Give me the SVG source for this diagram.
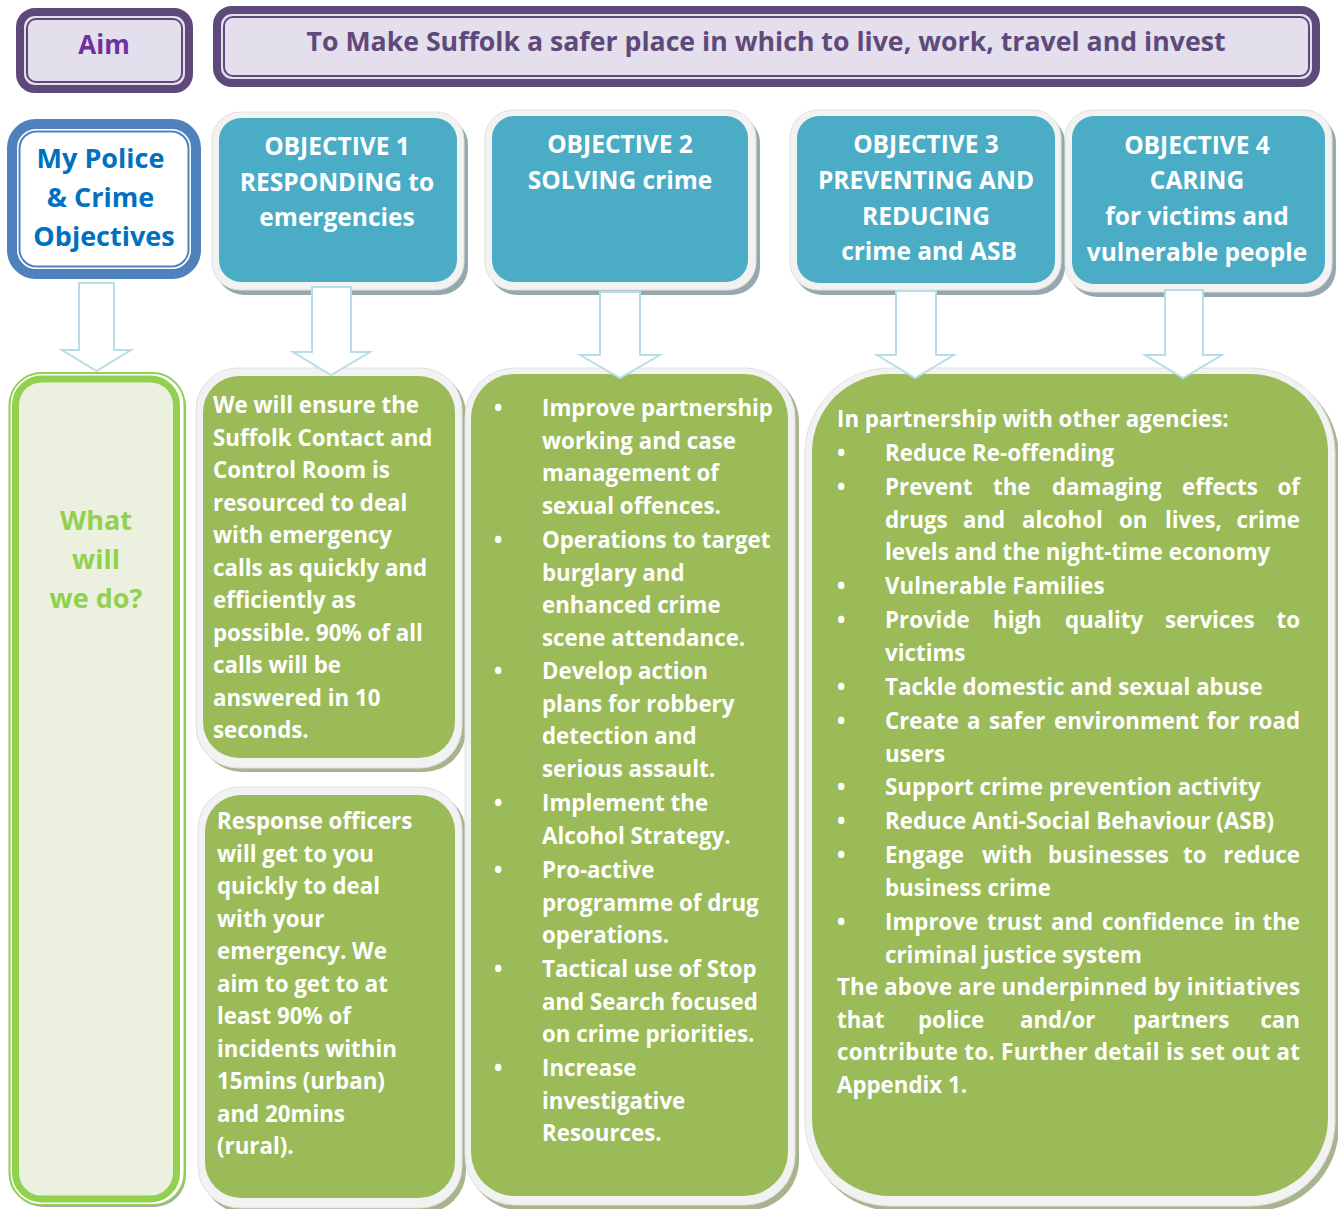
<svg xmlns="http://www.w3.org/2000/svg" width="1338" height="1209" viewBox="0 0 1338 1209">
<style>
.t{font-family:"Open Sans",Lato,"Liberation Sans",sans-serif;font-weight:bold}
.obj{fill:#4BACC6}
.frame{fill:#F2F2F2;stroke:#E0E0E0;stroke-width:1}
.shT{fill:#94A9AE}
.shG{fill:#A8B48E}
.grn{fill:#9BBB59}
.wt{fill:#FFFFFF;font-size:22.3px}
.ot{fill:#FFFFFF;font-size:24.5px;text-anchor:middle}
.arr{fill:#FFFFFF;stroke:#B7DDE8;stroke-width:2}
.e{text-anchor:end}
</style>
<rect width="1338" height="1209" fill="#FFFFFF"/>

<g id="aim">
<rect x="20" y="12" width="169" height="77" rx="15" fill="#E4DFEC" stroke="#5F497A" stroke-width="8"/>
<rect x="27" y="19" width="155" height="63" rx="9" fill="none" stroke="#5F497A" stroke-width="2"/>
<text class="t" x="104" y="54" font-size="26" fill="#7030A0" text-anchor="middle">Aim</text>
</g>

<g id="aim-text">
<rect x="217" y="10" width="1099" height="73" rx="15" fill="#E4DFEC" stroke="#5F497A" stroke-width="8"/>
<rect x="224" y="17" width="1085" height="59" rx="9" fill="none" stroke="#5F497A" stroke-width="2"/>
<text class="t" x="766" y="51" font-size="27" fill="#5F497A" text-anchor="middle" textLength="919" lengthAdjust="spacingAndGlyphs">To Make Suffolk a safer place in which to live, work, travel and invest</text>
</g>

<g id="my-police">
<rect x="12" y="124" width="184" height="150" rx="24" fill="#FFFFFF" stroke="#4F81BD" stroke-width="10"/>
<rect x="19.5" y="131.5" width="169" height="135" rx="17" fill="none" stroke="#4F81BD" stroke-width="2"/>
<text class="t" font-size="27" fill="#0070C0" text-anchor="middle">
<tspan x="104" y="168">My Police</tspan>
<tspan x="104" y="207">&amp; Crime</tspan>
<tspan x="104" y="246">Objectives</tspan>
</text>
</g>

<g id="objective-1">
<rect class="shT" x="216" y="117" width="252" height="178" rx="28"/>
<rect class="frame" x="212" y="112" width="252" height="178" rx="28"/>
<rect class="obj" x="219" y="118" width="238" height="164" rx="22"/>
<text class="t ot"><tspan x="337" y="155">OBJECTIVE 1</tspan><tspan x="337" y="191">RESPONDING to</tspan><tspan x="337" y="226">emergencies</tspan></text>
</g>

<g id="objective-2">
<rect class="shT" x="489" y="115" width="271" height="180" rx="28"/>
<rect class="frame" x="485" y="110" width="271" height="180" rx="28"/>
<rect class="obj" x="492" y="116" width="256" height="166" rx="22"/>
<text class="t ot"><tspan x="620" y="153">OBJECTIVE 2</tspan><tspan x="620" y="189">SOLVING crime</tspan></text>
</g>

<g id="objective-3">
<rect class="shT" x="794" y="115" width="271" height="180" rx="28"/>
<rect class="frame" x="790" y="110" width="271" height="180" rx="28"/>
<rect class="obj" x="797" y="116" width="258" height="167" rx="22"/>
<text class="t ot"><tspan x="926" y="153">OBJECTIVE 3</tspan><tspan x="926" y="189">PREVENTING AND</tspan><tspan x="926" y="225">REDUCING</tspan><tspan x="929" y="260">crime and ASB</tspan></text>
</g>

<g id="objective-4">
<rect class="shT" x="1069" y="115" width="267" height="182" rx="28"/>
<rect class="frame" x="1065" y="110" width="267" height="182" rx="28"/>
<rect class="obj" x="1072" y="116" width="253" height="168" rx="22"/>
<text class="t ot"><tspan x="1197" y="154">OBJECTIVE 4</tspan><tspan x="1197" y="189">CARING</tspan><tspan x="1197" y="225">for victims and</tspan><tspan x="1197" y="261">vulnerable people</tspan></text>
</g>

<g id="what-will-we-do">
<rect x="11" y="375" width="175" height="832" rx="32" fill="#A6A6A6"/>
<rect x="9.5" y="373" width="175" height="832" rx="32" fill="#FFFFFF" stroke="#92D050" stroke-width="2"/>
<rect x="15.5" y="379" width="161" height="820" rx="26" fill="#EBF1DE" stroke="#92D050" stroke-width="7"/>
<text class="t" font-size="27" fill="#92D050" text-anchor="middle"><tspan x="96" y="530">What</tspan><tspan x="96" y="569">will</tspan><tspan x="96" y="608">we do?</tspan></text>
</g>

<g id="action-1a">
<rect class="shG" x="200" y="372" width="266" height="400" rx="42"/>
<rect class="frame" x="196" y="368" width="266" height="400" rx="42"/>
<rect class="grn" x="203" y="376" width="252" height="382" rx="36"/>
<text class="t wt">
<tspan x="213" y="413">We will ensure the</tspan>
<tspan x="213" y="445.5">Suffolk Contact and</tspan>
<tspan x="213" y="478">Control Room is</tspan>
<tspan x="213" y="510.5">resourced to deal</tspan>
<tspan x="213" y="543">with emergency</tspan>
<tspan x="213" y="575.5">calls as quickly and</tspan>
<tspan x="213" y="608">efficiently as</tspan>
<tspan x="213" y="640.5">possible. 90% of all</tspan>
<tspan x="213" y="673">calls will be</tspan>
<tspan x="213" y="705.5">answered in 10</tspan>
<tspan x="213" y="738">seconds.</tspan>
</text>
</g>

<g id="action-1b">
<rect class="shG" x="202" y="791" width="264" height="422" rx="42"/>
<rect class="frame" x="198" y="787" width="264" height="421" rx="42"/>
<rect class="grn" x="205" y="795" width="250" height="403" rx="36"/>
<text class="t wt">
<tspan x="217" y="829">Response officers</tspan>
<tspan x="217" y="861.5">will get to you</tspan>
<tspan x="217" y="894">quickly to deal</tspan>
<tspan x="217" y="926.5">with your</tspan>
<tspan x="217" y="959">emergency. We</tspan>
<tspan x="217" y="991.5">aim to get to at</tspan>
<tspan x="217" y="1024">least 90% of</tspan>
<tspan x="217" y="1056.5">incidents within</tspan>
<tspan x="217" y="1089">15mins (urban)</tspan>
<tspan x="217" y="1121.5">and 20mins</tspan>
<tspan x="217" y="1154">(rural).</tspan>
</text>
</g>

<g id="action-2">
<rect class="shG" x="469" y="372" width="330" height="838" rx="50"/>
<rect class="frame" x="465" y="368" width="330" height="837" rx="50"/>
<rect class="grn" x="471" y="374" width="317" height="822" rx="44"/>
<text class="t wt">
<tspan x="494" y="416">•</tspan><tspan x="542" y="416">Improve partnership</tspan>
<tspan x="542" y="448.5">working and case</tspan>
<tspan x="542" y="481">management of</tspan>
<tspan x="542" y="513.5">sexual offences.</tspan>
<tspan x="494" y="548">•</tspan><tspan x="542" y="548">Operations to target</tspan>
<tspan x="542" y="580.5">burglary and</tspan>
<tspan x="542" y="613">enhanced crime</tspan>
<tspan x="542" y="645.5">scene attendance.</tspan>
<tspan x="494" y="679">•</tspan><tspan x="542" y="679">Develop action</tspan>
<tspan x="542" y="711.5">plans for robbery</tspan>
<tspan x="542" y="744">detection and</tspan>
<tspan x="542" y="776.5">serious assault.</tspan>
<tspan x="494" y="811">•</tspan><tspan x="542" y="811">Implement the</tspan>
<tspan x="542" y="843.5">Alcohol Strategy.</tspan>
<tspan x="494" y="878">•</tspan><tspan x="542" y="878">Pro-active</tspan>
<tspan x="542" y="910.5">programme of drug</tspan>
<tspan x="542" y="943">operations.</tspan>
<tspan x="494" y="977">•</tspan><tspan x="542" y="977">Tactical use of Stop</tspan>
<tspan x="542" y="1009.5">and Search focused</tspan>
<tspan x="542" y="1042">on crime priorities.</tspan>
<tspan x="494" y="1076">•</tspan><tspan x="542" y="1076">Increase</tspan>
<tspan x="542" y="1108.5">investigative</tspan>
<tspan x="542" y="1141">Resources.</tspan>
</text>
</g>

<g id="action-3-4">
<rect class="shG" x="809" y="372" width="530" height="839" rx="85"/>
<rect class="frame" x="805" y="368" width="530" height="838" rx="85"/>
<rect class="grn" x="812" y="374" width="516" height="822" rx="78"/>
<g class="t wt">
<text x="837" y="427">In partnership with other agencies:</text>
<text x="837" y="461">•</text><text x="885" y="461">Reduce Re-offending</text>
<text x="837" y="495">•</text><text><tspan x="885" y="495">Prevent</tspan><tspan x="993" y="495">the</tspan><tspan x="1052" y="495">damaging</tspan><tspan x="1182" y="495">effects</tspan></text><text class="e" x="1300" y="495">of</text>
<text><tspan x="885" y="527.5">drugs</tspan><tspan x="963" y="527.5">and</tspan><tspan x="1022" y="527.5">alcohol</tspan><tspan x="1119" y="527.5">on</tspan><tspan x="1165" y="527.5">lives,</tspan></text><text class="e" x="1300" y="527.5">crime</text>
<text x="885" y="560">levels and the night-time economy</text>
<text x="837" y="594">•</text><text x="885" y="594">Vulnerable Families</text>
<text x="837" y="628">•</text><text><tspan x="885" y="628">Provide</tspan><tspan x="993" y="628">high</tspan><tspan x="1065" y="628">quality</tspan><tspan x="1165" y="628">services</tspan></text><text class="e" x="1300" y="628">to</text>
<text x="885" y="660.5">victims</text>
<text x="837" y="695">•</text><text x="885" y="695">Tackle domestic and sexual abuse</text>
<text x="837" y="729">•</text><text><tspan x="885" y="729">Create</tspan><tspan x="967" y="729">a</tspan><tspan x="989" y="729">safer</tspan><tspan x="1054" y="729">environment</tspan><tspan x="1207" y="729">for</tspan></text><text class="e" x="1300" y="729">road</text>
<text x="885" y="761.5">users</text>
<text x="837" y="795">•</text><text x="885" y="795">Support crime prevention activity</text>
<text x="837" y="829">•</text><text x="885" y="829">Reduce Anti-Social Behaviour (ASB)</text>
<text x="837" y="863">•</text><text><tspan x="885" y="863">Engage</tspan><tspan x="982" y="863">with</tspan><tspan x="1048" y="863">businesses</tspan><tspan x="1183" y="863">to</tspan></text><text class="e" x="1300" y="863">reduce</text>
<text x="885" y="895.5">business crime</text>
<text x="837" y="930">•</text><text><tspan x="885" y="930">Improve</tspan><tspan x="987" y="930">trust</tspan><tspan x="1051" y="930">and</tspan><tspan x="1102" y="930">confidence</tspan><tspan x="1234" y="930">in</tspan></text><text class="e" x="1300" y="930">the</text>
<text x="885" y="962.5">criminal justice system</text>
<text x="837" y="995" textLength="463" lengthAdjust="spacing">The above are underpinned by initiatives</text>
<text><tspan x="837" y="1027.5">that</tspan><tspan x="918" y="1027.5">police</tspan><tspan x="1020" y="1027.5">and/or</tspan><tspan x="1133" y="1027.5">partners</tspan></text><text class="e" x="1300" y="1027.5">can</text>
<text x="837" y="1060" textLength="463" lengthAdjust="spacing">contribute to. Further detail is set out at</text>
<text x="837" y="1092.5">Appendix 1.</text>
</g>
</g>

<g id="connectors">
<path class="arr" d="M79,283 L114,283 L114,350 L131,350 L96.5,371 L62,350 L79,350 Z"/>
<path class="arr" d="M312,287 L351,287 L351,352 L370,352 L331,375 L293,352 L312,352 Z"/>
<path class="arr" d="M600,292 L640,292 L640,355 L660,355 L620,378 L580,355 L600,355 Z"/>
<path class="arr" d="M896,291 L936,291 L936,355 L954,355 L915,378 L877,355 L896,355 Z"/>
<path class="arr" d="M1165,290 L1203,290 L1203,355 L1222,355 L1183,378 L1145,355 L1165,355 Z"/>
</g>
</svg>
